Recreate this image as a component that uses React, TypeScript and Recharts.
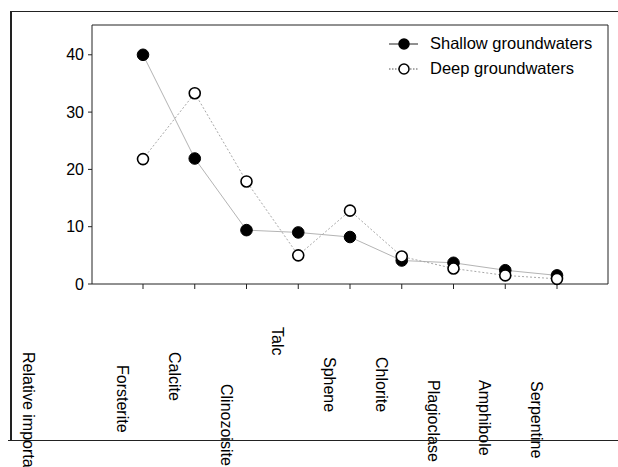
import React from "react";
import { LineChart, Line, XAxis, YAxis, Legend } from "recharts";

// minerals along the x axis
const MINERALS = [
  "Forsterite",
  "Calcite",
  "Clinozoisite",
  "Talc",
  "Sphene",
  "Chlorite",
  "Plagioclase",
  "Amphibole",
  "Serpentine",
];

// relative importance (%)
const SHALLOW = [40, 21.9, 9.4, 9.0, 8.2, 4.1, 3.7, 2.4, 1.5];
const DEEP = [21.8, 33.3, 17.9, 5.0, 12.8, 4.8, 2.7, 1.5, 0.9];

const Y_TICKS = [0, 10, 20, 30, 40];

// layout only: how far below the axis each rotated label starts
const LABEL_DROP = [81, 68, 100, 43, 73, 73, 96, 96, 97];

const FONT = "'Liberation Sans', Arial, sans-serif";
const AXIS_COLOR = "#222";

const chartData = MINERALS.map((mineral, i) => ({
  mineral,
  shallow: SHALLOW[i],
  deep: DEEP[i],
}));

const MineralTick = (props: any) => {
  const { x, payload, index } = props;
  const top = 284 + LABEL_DROP[index ?? payload.index ?? 0];
  const cx = x - 20.5;
  return (
    <text
      x={cx}
      y={top}
      transform={`rotate(90, ${cx}, ${top})`}
      textAnchor="start"
      dominantBaseline="central"
      fontSize={16}
      fontFamily={FONT}
      fill="#000"
    >
      {payload.value}
    </text>
  );
};

const YLabel = (props: any) => {
  const vb = props.viewBox || { x: 10, y: 26, width: 82, height: 258 };
  const cx = vb.x + 18;
  const top = vb.y + vb.height + 68;
  return (
    <text
      x={cx}
      y={top}
      transform={`rotate(90, ${cx}, ${top})`}
      textAnchor="start"
      dominantBaseline="central"
      fontSize={16}
      fontFamily={FONT}
      fill="#000"
    >
      Relative importance (%)
    </text>
  );
};

const LEGEND_ITEMS = [
  { name: "Shallow groundwaters", fill: "#000", stroke: "#222", dash: undefined },
  { name: "Deep groundwaters", fill: "#fff", stroke: "#555", dash: "1.5 1.5" },
];

const renderLegend = () => (
  <div style={{ fontFamily: FONT, fontSize: 16.5, color: "#000" }}>
    {LEGEND_ITEMS.map((item) => (
      <div
        key={item.name}
        style={{ display: "flex", alignItems: "center", height: 25 }}
      >
        <svg width={32} height={14}>
          <line
            x1={1}
            x2={30}
            y1={7}
            y2={7}
            stroke={item.stroke}
            strokeWidth={1}
            strokeDasharray={item.dash}
          />
          <circle cx={16} cy={7} r={5} fill={item.fill} stroke="#000" strokeWidth={1.5} />
        </svg>
        <span style={{ marginLeft: 10, whiteSpace: "nowrap" }}>{item.name}</span>
      </div>
    ))}
  </div>
);

export default function App() {
  return (
    <div
      style={{
        position: "absolute",
        left: 0,
        top: 0,
        width: 618,
        height: 467,
        overflow: "hidden",
        background: "#fff",
      }}
    >
      <div style={{ position: "absolute", left: 0, top: 0 }}>
        <LineChart
          width={618}
          height={467}
          data={chartData}
          margin={{ top: 25, right: 10, left: 10, bottom: 178 }}
        >
          <XAxis
            dataKey="mineral"
            height={5}
            padding={{ left: 51, right: 51 }}
            interval={0}
            tickSize={5}
            stroke={AXIS_COLOR}
            tick={<MineralTick />}
          />
          <XAxis
            xAxisId="top"
            orientation="top"
            dataKey="mineral"
            height={1}
            mirror
            padding={{ left: 51, right: 51 }}
            interval={0}
            tickSize={5}
            stroke={AXIS_COLOR}
            tick={false}
          />
          <YAxis
            domain={[0, 45.2]}
            ticks={Y_TICKS}
            width={82}
            tickSize={4}
            tickMargin={4}
            stroke={AXIS_COLOR}
            tick={{ fontSize: 16, fill: "#000", fontFamily: FONT }}
            label={<YLabel />}
          />
          <YAxis
            yAxisId="right"
            orientation="right"
            domain={[0, 45.2]}
            ticks={Y_TICKS}
            width={1}
            mirror
            tickSize={5}
            stroke={AXIS_COLOR}
            tick={false}
          />
          <Legend
            layout="vertical"
            align="center"
            verticalAlign="middle"
            content={renderLegend}
            wrapperStyle={{ top: 31, left: 388, width: 230 }}
          />
          <Line
            type="linear"
            dataKey="shallow"
            name="Shallow groundwaters"
            stroke="#b4b4b4"
            strokeWidth={1}
            dot={{ r: 5.8, fill: "#000", stroke: "#000", strokeWidth: 1 }}
            activeDot={false}
            isAnimationActive={false}
          />
          <Line
            type="linear"
            dataKey="deep"
            name="Deep groundwaters"
            stroke="#a8a8a8"
            strokeWidth={1}
            strokeDasharray="2 2"
            dot={{
              r: 5.5,
              fill: "#fff",
              stroke: "#000",
              strokeWidth: 1.6,
              strokeDasharray: "0",
            }}
            activeDot={false}
            isAnimationActive={false}
          />
        </LineChart>
      </div>
      {/* outer frame, its right edge runs off the picture */}
      <svg
        width={618}
        height={467}
        style={{ position: "absolute", left: 0, top: 0, pointerEvents: "none" }}
      >
        <line x1={10} y1={11.5} x2={618} y2={11.5} stroke="#222" strokeWidth={1.2} />
        <line x1={11} y1={11} x2={11} y2={441} stroke="#222" strokeWidth={2} />
        <line x1={8} y1={440.5} x2={618} y2={440.5} stroke="#222" strokeWidth={1.2} />
      </svg>
    </div>
  );
}
